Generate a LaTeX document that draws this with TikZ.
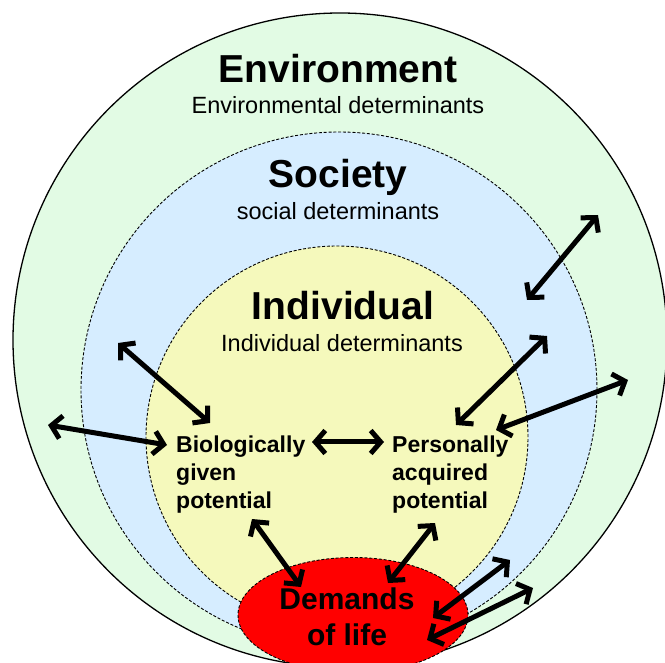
\documentclass[tikz,border=0pt]{standalone}
\usepackage{fontspec}
\setmainfont{Liberation Sans}
\usetikzlibrary{arrows.meta,shapes.geometric}
\definecolor{envgreen}{HTML}{E2FBE4}
\definecolor{socblue}{HTML}{D6EDFF}
\definecolor{indyellow}{HTML}{F5F9BC}
\definecolor{demred}{HTML}{FF0000}
\begin{document}
\begin{tikzpicture}[x=1pt,y=-1pt,
  dbl/.style={line width=5pt,
    {Straight Barb[length=10pt,width=23pt]}-{Straight Barb[length=10pt,width=23pt]}},
  ringline/.style={line width=0.9pt, dash pattern=on 3pt off 1.8pt},
  bigtitle/.style={font=\fontsize{39}{44}\selectfont\bfseries, anchor=base, inner sep=0},
  subtitle/.style={font=\fontsize{23.5}{28}\selectfont, anchor=base, inner sep=0},
  potlabel/.style={font=\fontsize{23}{28}\selectfont\bfseries, align=left, anchor=north west, inner sep=0},
  demshape/.style={ellipse, draw, ringline, fill=demred, minimum width=230pt, minimum height=115pt, inner sep=0},
  demtext/.style={font=\fontsize{30}{36}\selectfont\bfseries, align=center, inner sep=0}
]
\useasboundingbox (0,0) rectangle (665,663);
\clip (0,0) rectangle (665,663);
% rings
\draw[fill=envgreen, line width=1.3pt] (340,340) circle[radius=327pt];
\draw[fill=socblue, ringline] (339,390) circle[radius=258pt];
\draw[fill=indyellow, ringline] (337,437) circle[radius=191pt];
\node[demshape] (dem) at (353,615) {};
% titles
\node[bigtitle] (envt) at (338,83) {Environment};
\node[subtitle] (envs) at (338,114) {Environmental determinants};
\node[bigtitle] (soct) at (338,188) {Society};
\node[subtitle] (socs) at (338,220) {social determinants};
\node[bigtitle] (indt) at (343,320) {Individual};
\node[subtitle] (inds) at (342,352) {Individual determinants};
% inner labels
\node[potlabel] (bgp) at (176,435.5) {Biologically\\given\\potential};
\node[potlabel] (pap) at (392,435.5) {Personally\\acquired\\potential};
\node[demtext] (demt) at (347,617) {Demands\\of life};
% arrow end points
\coordinate (a1) at (527,300); \coordinate (b1) at (598,215);
\coordinate (a2) at (456,425); \coordinate (b2) at (547,336);
\coordinate (a3) at (496,430); \coordinate (b3) at (628,380);
\coordinate (a4) at (167,445); \coordinate (b4) at (48,425);
\coordinate (a5) at (210,423); \coordinate (b5) at (118,343);
\coordinate (a6) at (312,442); \coordinate (b6) at (384,442);
\coordinate (a7) at (252,519); \coordinate (b7) at (301,587);
\coordinate (a8) at (435,523); \coordinate (b8) at (388,583);
\coordinate (a9) at (433,618); \coordinate (b9) at (510,560);
\coordinate (a10) at (427,640); \coordinate (b10) at (533,588);
% arrows
\foreach \i in {1,...,10} {\draw[dbl] (a\i) -- (b\i);}
\end{tikzpicture}
\end{document}
